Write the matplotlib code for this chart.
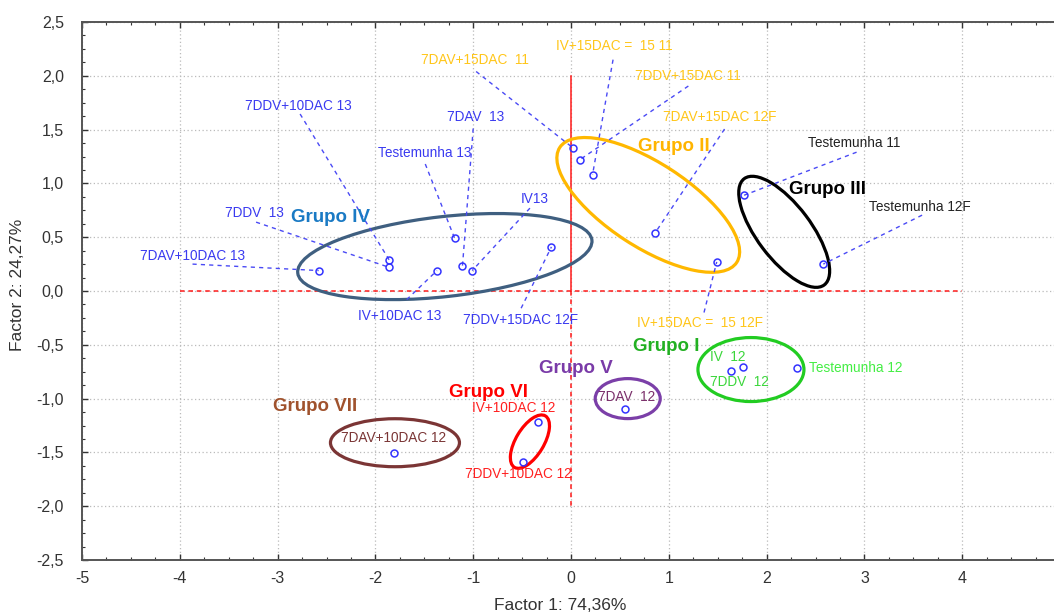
import matplotlib
matplotlib.use("Agg")
import matplotlib.pyplot as plt
from matplotlib.patches import Ellipse
from matplotlib.transforms import ScaledTranslation
from matplotlib.ticker import MultipleLocator, FuncFormatter

plt.rcParams['font.family'] = ['Liberation Sans', 'DejaVu Sans']

# ---------------- data ----------------
labels = ["7DDV+10DAC 13", "7DAV  13", "Testemunha 13", "7DDV  13", "7DAV+10DAC 13",
          "IV13", "IV+10DAC 13", "7DDV+15DAC 12F",
          "7DAV+15DAC  11", "IV+15DAC =  15 11", "7DDV+15DAC 11", "7DAV+15DAC 12F",
          "IV+15DAC =  15 12F",
          "Testemunha 11", "Testemunha 12F",
          "IV  12", "7DDV  12", "Testemunha 12",
          "7DAV  12",
          "IV+10DAC 12", "7DDV+10DAC 12",
          "7DAV+10DAC 12"]
factor1 = [-1.86, -1.11, -1.19, -1.86, -2.58,
           -1.01, -1.37, -0.20,
           0.02, 0.22, 0.09, 0.86,
           1.49,
           1.77, 2.58,
           1.64, 1.76, 2.31,
           0.55,
           -0.34, -0.49,
           -1.81]
factor2 = [0.29, 0.23, 0.49, 0.22, 0.19,
           0.19, 0.19, 0.41,
           1.33, 1.08, 1.22, 0.54,
           0.27,
           0.89, 0.25,
           -0.74, -0.71, -0.72,
           -1.10,
           -1.22, -1.59,
           -1.51]

group_names = ["Grupo I", "Grupo II", "Grupo III", "Grupo IV", "Grupo V", "Grupo VI", "Grupo VII"]

x_ticks = [-5, -4, -3, -2, -1, 0, 1, 2, 3, 4, 5]
y_ticks = [-2.5, -2.0, -1.5, -1.0, -0.5, 0.0, 0.5, 1.0, 1.5, 2.0, 2.5]

# ---------------- layout / style ----------------
BLUE_T = '#3A3AF0'
YEL = '#FFC61A'
GRN = '#3BD63B'
DARK = '#222222'
label_style = {
    "7DDV+10DAC 13": ((-2.79, 1.72), (-2.77, 1.645), BLUE_T),
    "7DAV  13": ((-0.98, 1.62), (-1.00, 1.51), BLUE_T),
    "Testemunha 13": ((-1.50, 1.28), (-1.49, 1.18), BLUE_T),
    "7DDV  13": ((-3.24, 0.725), (-3.22, 0.64), BLUE_T),
    "7DAV+10DAC 13": ((-3.87, 0.325), (-3.87, 0.25), BLUE_T),
    "IV13": ((-0.37, 0.855), (-0.42, 0.77), BLUE_T),
    "IV+10DAC 13": ((-1.75, -0.23), (-1.68, -0.08), BLUE_T),
    "7DDV+15DAC 12F": ((-0.52, -0.27), (-0.51, -0.16), BLUE_T),
    "7DAV+15DAC  11": ((-0.98, 2.15), (-0.97, 2.04), YEL),
    "IV+15DAC =  15 11": ((0.44, 2.28), (0.43, 2.15), YEL),
    "7DDV+15DAC 11": ((1.20, 2.00), (1.20, 1.905), YEL),
    "7DAV+15DAC 12F": ((1.52, 1.62), (1.57, 1.505), YEL),
    "IV+15DAC =  15 12F": ((1.32, -0.30), (1.36, -0.20), YEL),
    "Testemunha 11": ((2.90, 1.375), (2.92, 1.29), DARK),
    "Testemunha 12F": ((3.57, 0.78), (3.59, 0.705), DARK),
    "IV  12": ((1.60, -0.61), None, GRN),
    "7DDV  12": ((1.72, -0.85), None, GRN),
    "Testemunha 12": ((2.91, -0.715), None, '#44EE44'),
    "7DAV  12": ((0.57, -0.985), None, '#7A2F6A'),
    "IV+10DAC 12": ((-0.59, -1.09), None, '#FF2020'),
    "7DDV+10DAC 12": ((-0.54, -1.70), None, '#FF2020'),
    "7DAV+10DAC 12": ((-1.81, -1.37), None, '#7A3535'),
}

# group: (label pos, label color, ellipse center (data), width px, height px, angle, ellipse color)
group_style = {
    "Grupo I":   ((0.97, -0.52), '#22B022', (1.84, -0.73), 106, 64, 0, '#22CC22'),
    "Grupo II":  ((1.05, 1.34), '#FFB400', (0.79, 0.80), 211, 84, -33, '#FFB800'),
    "Grupo III": ((2.62, 0.94), '#000000', (2.18, 0.55), 133, 54, -53, '#000000'),
    "Grupo IV":  ((-2.46, 0.68), '#1A7AC4', (-1.29, 0.32), 296, 80, 6.4, '#3F5F80'),
    "Grupo V":   ((0.05, -0.72), '#7A3BA8', (0.58, -1.00), 65, 40, 0, '#7B3FA8'),
    "Grupo VI":  ((-0.84, -0.94), '#FF0000', (-0.42, -1.40), 60, 28, 59, '#FF0000'),
    "Grupo VII": ((-2.62, -1.07), '#A0522D', (-1.80, -1.41), 129, 48, 0, '#7B3535'),
}

W, H, DPI = 1054, 615, 100
fig = plt.figure(figsize=(W / DPI, H / DPI), dpi=DPI)
ax = fig.add_axes([82 / W, 55 / H, (1060 - 82) / W, 538 / H])
ax.set_xlim(x_ticks[0], x_ticks[-1])
ax.set_ylim(y_ticks[0], y_ticks[-1])

ax.set_xticks(x_ticks)
ax.set_yticks(y_ticks)
ax.xaxis.set_minor_locator(MultipleLocator(0.25))
ax.yaxis.set_minor_locator(MultipleLocator(0.125))
ax.xaxis.set_major_formatter(FuncFormatter(lambda v, p: "" if v >= x_ticks[-1] else f"{v:.0f}"))
ax.yaxis.set_major_formatter(FuncFormatter(lambda v, p: f"{v:.1f}".replace('.', ',')))
ax.tick_params(which='both', direction='in', top=True, right=True, colors='#333333',
               labelsize=11.5, labelcolor='#333333')
ax.tick_params(axis='y', which='major', pad=13)
ax.tick_params(axis='x', which='major', pad=8)
ax.tick_params(which='major', length=4, width=1)
ax.tick_params(which='minor', length=2.5, width=0.8)
ax.grid(True, which='major', color='#BBBBBB', linestyle=(0, (1, 2)), linewidth=0.9)
for s in ax.spines.values():
    s.set_color('#555555')
    s.set_linewidth(1.4)

# reference lines
ax.plot([x_ticks[1], x_ticks[-2]], [0, 0], color='#FF1A1A', lw=1.1, ls=(0, (3, 2.5)), zorder=2)
ax.plot([0, 0], [0, 2.0], color='#FF1A1A', lw=1.1, zorder=2)
ax.plot([0, 0], [0, -2.0], color='#FF1A1A', lw=1.1, ls=(0, (3, 2.5)), zorder=2)

# ellipses
for g in group_names:
    lp, lc, c, wpx, hpx, ang, ec = group_style[g]
    tr = fig.dpi_scale_trans + ScaledTranslation(c[0], c[1], ax.transData)
    e = Ellipse((0, 0), wpx / DPI, hpx / DPI, angle=ang, transform=tr,
                fill=False, ec=ec, lw=2.3, zorder=3)
    ax.add_patch(e)
    ax.text(lp[0], lp[1], g, color=lc, fontsize=13.5, fontweight='bold',
            ha='center', va='center', zorder=5)

# leader lines and labels
for lab, xv, yv in zip(labels, factor1, factor2):
    tp, lp, col = label_style[lab]
    if lp is not None:
        ax.plot([lp[0], xv], [lp[1], yv], color='#4A4AF5', lw=1.0,
                ls=(0, (3, 3)), zorder=3)
    ax.text(tp[0], tp[1], lab, color=col, fontsize=9.8, ha='center', va='center', zorder=5)

ax.plot(factor1, factor2, 'o', ms=5, mfc='none', mec='#3333FF', mew=1.1, zorder=6)

fig.text(560 / W, 1 - 605 / H, "Factor 1: 74,36%", ha='center', va='center',
         fontsize=12.5, color='#333333')
fig.text(18 / W, 1 - 285 / H, "Factor 2: 24,27%", ha='center', va='center',
         fontsize=12.5, color='#333333', rotation=90)

fig.savefig("out.png", dpi=DPI)
